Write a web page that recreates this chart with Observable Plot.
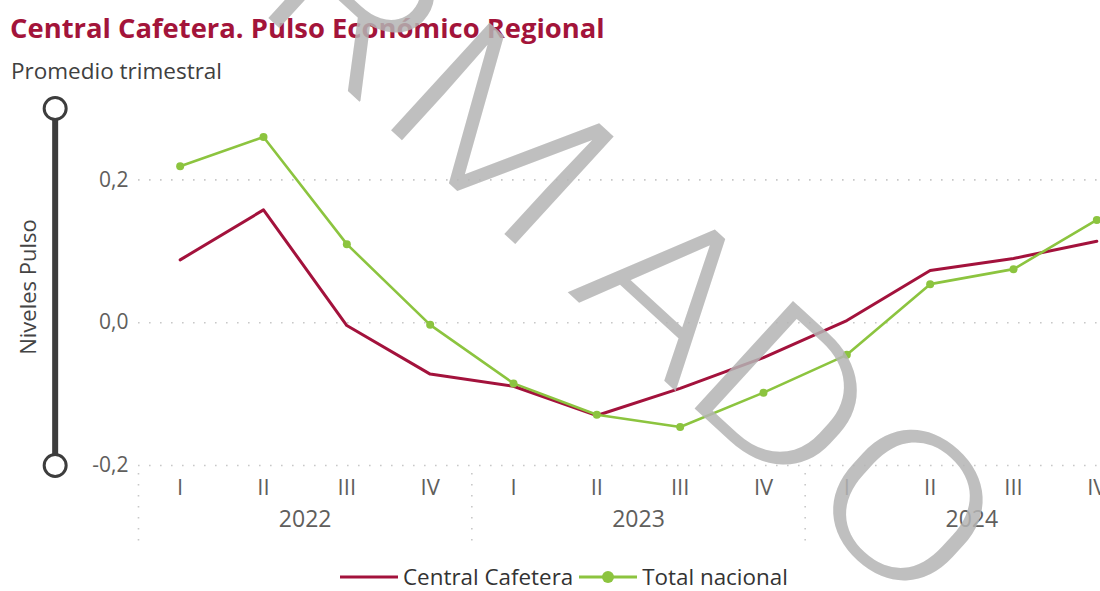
<!DOCTYPE html>
<html>
<head>
<meta charset="utf-8">
<script src="https://cdn.jsdelivr.net/npm/d3@7"></script>
<script src="https://cdn.jsdelivr.net/npm/@observablehq/plot@0.6"></script>
<style>
  html, body { margin: 0; padding: 0; background: #fff; }
  body { width: 1100px; height: 591px; overflow: hidden; position: relative; font-family: "Open Sans", "Noto Sans", sans-serif; }
  #title { position: absolute; left: 10px; top: 14px; font-size: 27.4px; line-height: 1; font-weight: 700; color: #a3143a; white-space: nowrap; }
  #subtitle { position: absolute; left: 11px; top: 60px; font-size: 22.5px; line-height: 1; color: #404040; white-space: nowrap; }
  #chart { position: absolute; left: 0; top: 90px; }
  #legend { position: absolute; left: 340px; top: 566px; display: flex; align-items: center; font-size: 22.4px; line-height: 1; color: #333; white-space: nowrap; }
  #legend .item { display: flex; align-items: center; }
  #legend svg { display: block; }
  #watermark { position: absolute; left: 0; top: 0; pointer-events: none; }
</style>
</head>
<body>
<div id="title">Central Cafetera. Pulso Económico Regional</div>
<div id="subtitle">Promedio trimestral</div>
<div id="chart"></div>
<div id="legend"></div>
<svg id="watermark" width="1100" height="591"></svg>
<script>
// ---- data ----
const years = ["2022", "2023", "2024"];
const quarters = ["I", "II", "III", "IV"];
const centralCafetera = [0.088, 0.158, -0.004, -0.072, -0.089, -0.130, -0.092, -0.049, 0.003, 0.073, 0.090, 0.114];
const totalNacional = [0.219, 0.260, 0.110, -0.003, -0.085, -0.129, -0.146, -0.098, -0.045, 0.054, 0.075, 0.144];
const yTicks = [-0.2, 0, 0.2];
const yDomain = [-0.2, 0.3];
const seriesNames = ["Central Cafetera", "Total nacional"];
const colors = ["#a3123c", "#8cc43f"];

// ---- derived table ----
const periods = years.flatMap((y, yi) => quarters.map((q, qi) => ({year: y, quarter: q, i: yi * 4 + qi})));
const rowsC = periods.map((p, k) => ({...p, value: centralCafetera[k], series: seriesNames[0]}));
const rowsT = periods.map((p, k) => ({...p, value: totalNacional[k], series: seriesNames[1]}));
const yearRows = years.map((y, yi) => ({year: y, center: yi * 4 + 1.5}));
const separators = d3.range(0, years.length + 1).map(k => k * 4 - 0.5);

const fmt = v => d3.format(".1f")(v).replace("\u2212", "-").replace(".", ",");

const W = 1100, H = 470;
const xRange = [138, 1138];
const yRange = [375, 18];
const tickColor = "#605e5c";
const font = "'Open Sans', 'Noto Sans', sans-serif";

// values for the x-axis separators (below the plotting frame)
const pxPerUnit = (yRange[0] - yRange[1]) / (yDomain[1] - yDomain[0]);
const sepTop = yDomain[0] - 8 / pxPerUnit;
const sepBottom = yDomain[0] - 76 / pxPerUnit;

const chart = Plot.plot({
  width: W,
  height: H,
  marginLeft: 138,
  marginRight: 0,
  marginTop: 18,
  marginBottom: 95,
  style: {fontFamily: font, background: "transparent", overflow: "hidden"},
  x: {domain: [-0.5, 11.5], range: xRange, axis: null},
  y: {domain: yDomain, range: yRange, axis: null},
  marks: [
    // gridlines
    Plot.ruleY(yTicks, {x1: -0.5, x2: 11.5, stroke: "#c8c8c8", strokeWidth: 1.6, strokeDasharray: "1.6,9.4"}),
    // separators between years
    Plot.ruleX(separators, {y1: sepTop, y2: sepBottom, stroke: "#c8c8c8", strokeWidth: 1.6, strokeDasharray: "1.6,9.4"}),
    // y tick labels
    Plot.text(yTicks, {y: d => d, text: d => fmt(d), frameAnchor: "left", textAnchor: "end", dx: -10, fontSize: 21, fill: tickColor}),
    // y label
    Plot.text(["Niveles Pulso"], {frameAnchor: "left", textAnchor: "middle", rotate: -90, dx: -110, fontSize: 22, fill: "#444"}),
    // slider decoration aligned to y domain
    Plot.ruleX([-1.5], {y1: yDomain[0], y2: yDomain[1], stroke: "#3d3d3d", strokeWidth: 6}),
    Plot.dot(yDomain, {x: -1.5, y: d => d, r: 11, fill: "white", stroke: "#3d3d3d", strokeWidth: 3}),
    // quarter labels
    Plot.text(periods, {x: "i", text: "quarter", frameAnchor: "bottom", dy: 29, fontSize: 22, fill: tickColor}),
    // year labels
    Plot.text(yearRows, {x: "center", text: "year", frameAnchor: "bottom", dy: 61, fontSize: 23, fill: tickColor}),
    // lines
    Plot.line(rowsC, {x: "i", y: "value", stroke: colors[0], strokeWidth: 3}),
    Plot.line(rowsT, {x: "i", y: "value", stroke: colors[1], strokeWidth: 2.6}),
    Plot.dot(rowsT, {x: "i", y: "value", r: 4, fill: colors[1]})
  ]
});
document.getElementById("chart").appendChild(chart);

// ---- legend ----
const legend = d3.select("#legend");
seriesNames.forEach((name, k) => {
  const item = legend.append("div").attr("class", "item").style("margin-left", k ? "6px" : "0");
  const sw = item.append("svg").attr("width", 58).attr("height", 16).style("margin-right", "5px");
  sw.append("line").attr("x1", 0).attr("x2", 58).attr("y1", 8).attr("y2", 8)
    .attr("stroke", colors[k]).attr("stroke-width", 3);
  if (k === 1) sw.append("circle").attr("cx", 29).attr("cy", 8).attr("r", 6).attr("fill", colors[k]);
  item.append("span").text(name);
});

// ---- watermark ----
d3.select("#watermark").append("text")
  .attr("transform", "translate(920,615) rotate(42.5) scale(1.2,1)")
  .attr("text-anchor", "end")
  .attr("font-family", "Roboto, 'Open Sans', sans-serif")
  .attr("font-weight", 300)
  .attr("font-size", 205)
  .attr("dx", "0 0 0 0 0 0 8 36 0 0")
  .attr("fill", "#b4b4b4")
  .attr("fill-opacity", 0.85)
  .text("CONFIRMADO");
</script>
</body>
</html>
